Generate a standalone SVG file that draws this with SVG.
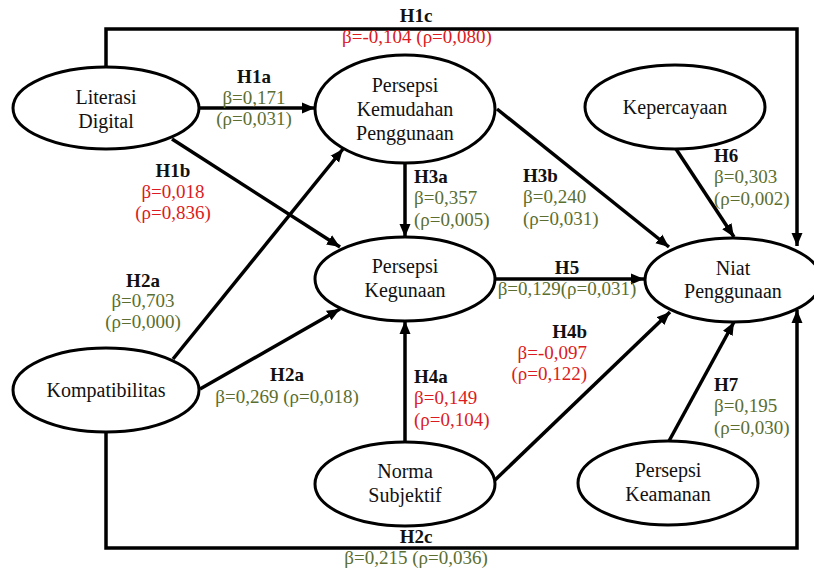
<svg xmlns="http://www.w3.org/2000/svg" width="814" height="572" viewBox="0 0 814 572">
<style>
.n{fill:#fff;stroke:#000;stroke-width:3}
.t{font-family:"Liberation Serif","Times New Roman",serif;font-size:20px;fill:#111;text-anchor:middle}
.c{stroke:#000;stroke-width:3.5;fill:none;marker-end:url(#ah)}
.l{font-family:"Liberation Serif","Times New Roman",serif;font-size:19px}
.h{font-weight:bold;fill:#111}
.g{fill:#5b6e2f}
.r{fill:#dc1a22}
</style>
<defs>
<marker id="ah" markerUnits="userSpaceOnUse" markerWidth="14" markerHeight="12" refX="13" refY="6" orient="auto">
<path d="M0,0.5 L13,6 L0,11.5 z" fill="#000"/>
</marker>
</defs>
<rect width="814" height="572" fill="#fff"/>
<g id="connectors">
<polyline class="c" points="106,66 106,29 797,29 797,246"/>
<polyline class="c" points="106,432 106,548 797,548 797,310"/>
<line class="c" x1="200" y1="108" x2="315" y2="108"/>
<line class="c" x1="172" y1="139" x2="340" y2="247"/>
<line class="c" x1="173" y1="359" x2="343" y2="149"/>
<line class="c" x1="200" y1="389" x2="340" y2="309"/>
<line class="c" x1="405" y1="163" x2="405" y2="237"/>
<line class="c" x1="497" y1="109" x2="669" y2="247"/>
<line class="c" x1="676" y1="149" x2="734" y2="237"/>
<line class="c" x1="495" y1="279" x2="644" y2="279"/>
<line class="c" x1="405" y1="442" x2="405" y2="321"/>
<line class="c" x1="495" y1="480" x2="670" y2="312"/>
<line class="c" x1="669" y1="441" x2="734" y2="322"/>
</g>
<g id="node-literasi"><ellipse class="n" cx="106" cy="108" rx="93" ry="41"/><text class="t" x="106" y="104">Literasi</text><text class="t" x="106" y="128">Digital</text></g>
<g id="node-kemudahan"><ellipse class="n" cx="405" cy="109" rx="90" ry="54"/><text class="t" x="405" y="92">Persepsi</text><text class="t" x="405" y="116">Kemudahan</text><text class="t" x="405" y="140">Penggunaan</text></g>
<g id="node-kepercayaan"><ellipse class="n" cx="675" cy="107" rx="90" ry="42"/><text class="t" x="675" y="114">Kepercayaan</text></g>
<g id="node-kegunaan"><ellipse class="n" cx="405" cy="279" rx="90" ry="42"/><text class="t" x="405" y="273">Persepsi</text><text class="t" x="405" y="297">Kegunaan</text></g>
<g id="node-niat"><ellipse class="n" cx="733" cy="280" rx="88" ry="42"/><text class="t" x="733" y="275">Niat</text><text class="t" x="733" y="298">Penggunaan</text></g>
<g id="node-kompatibilitas"><ellipse class="n" cx="106" cy="390" rx="93" ry="42"/><text class="t" x="106" y="397">Kompatibilitas</text></g>
<g id="node-norma"><ellipse class="n" cx="405" cy="484" rx="90" ry="42"/><text class="t" x="405" y="478">Norma</text><text class="t" x="405" y="502">Subjektif</text></g>
<g id="node-keamanan"><ellipse class="n" cx="668" cy="483" rx="90" ry="42"/><text class="t" x="668" y="477">Persepsi</text><text class="t" x="668" y="501">Keamanan</text></g>
<g id="labels" class="l">
<g text-anchor="middle">
<text class="h" x="416" y="22">H1c</text><text class="r" x="417" y="43">β=-0,104 (ρ=0,080)</text>
<text class="h" x="254" y="83">H1a</text><text class="g" x="254" y="104">β=0,171</text><text class="g" x="254" y="125">(ρ=0,031)</text>
<text class="h" x="173" y="177">H1b</text><text class="r" x="173" y="198">β=0,018</text><text class="r" x="173" y="219">(ρ=0,836)</text>
<text class="h" x="143" y="287">H2a</text><text class="g" x="143" y="307">β=0,703</text><text class="g" x="143" y="328">(ρ=0,000)</text>
<text class="h" x="287" y="381">H2a</text><text class="g" x="287" y="403">β=0,269 (ρ=0,018)</text>
<text class="h" x="416" y="543">H2c</text><text class="g" x="416" y="564">β=0,215 (ρ=0,036)</text>
<text class="h" x="567" y="274">H5</text><text class="g" x="567" y="295">β=0,129(ρ=0,031)</text>
</g>
<g text-anchor="start">
<text class="h" x="414" y="183">H3a</text><text class="g" x="414" y="204">β=0,357</text><text class="g" x="414" y="226">(ρ=0,005)</text>
<text class="h" x="523" y="182">H3b</text><text class="g" x="523" y="203">β=0,240</text><text class="g" x="523" y="225">(ρ=0,031)</text>
<text class="h" x="714" y="162">H6</text><text class="g" x="714" y="183">β=0,303</text><text class="g" x="714" y="205">(ρ=0,002)</text>
<text class="h" x="414" y="383">H4a</text><text class="r" x="414" y="404">β=0,149</text><text class="r" x="414" y="426">(ρ=0,104)</text>
<text class="h" x="714" y="391">H7</text><text class="g" x="714" y="412">β=0,195</text><text class="g" x="714" y="434">(ρ=0,030)</text>
</g>
<g text-anchor="end">
<text class="h" x="587" y="338">H4b</text><text class="r" x="587" y="359">β=-0,097</text><text class="r" x="587" y="380">(ρ=0,122)</text>
</g>
</g>
</svg>
